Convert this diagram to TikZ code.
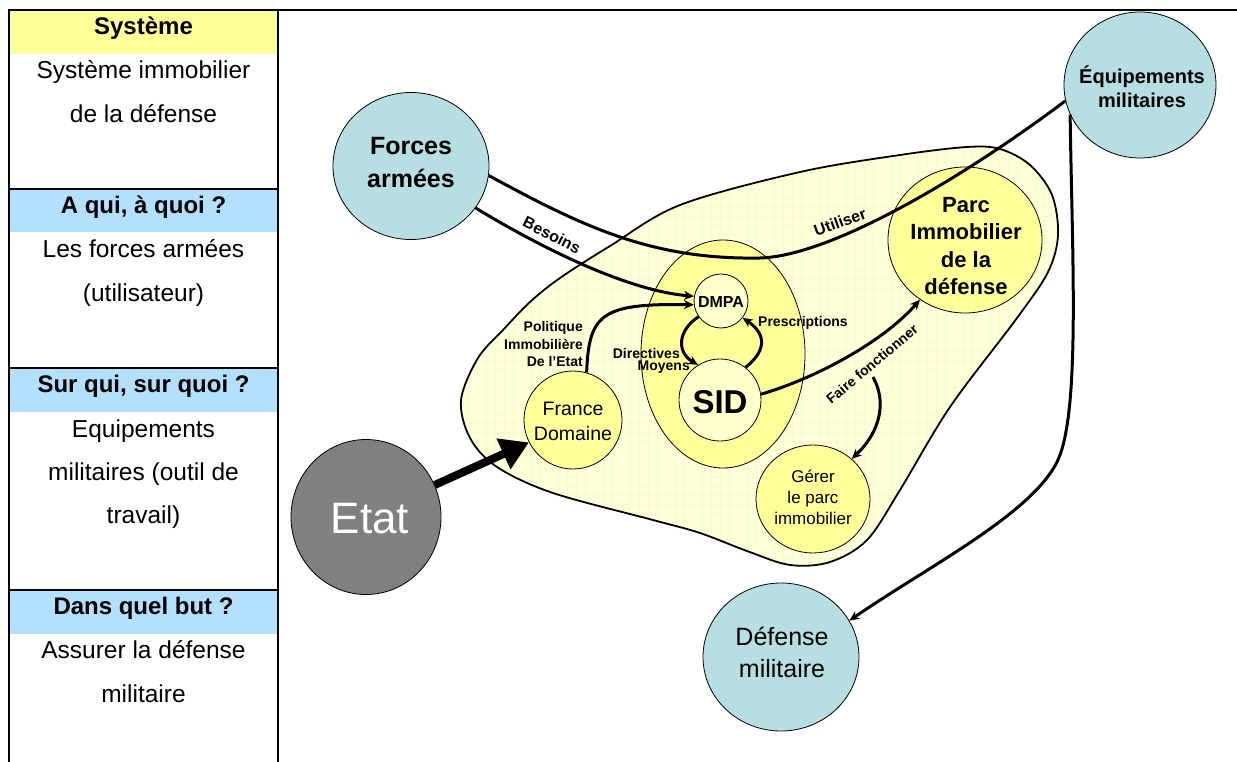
\documentclass[tikz,border=0pt]{standalone}
\usepackage{fontspec}
\setmainfont{Liberation Sans}
\usetikzlibrary{shapes.geometric,arrows.meta}
\definecolor{tl}{RGB}{183,222,226}
\definecolor{yel}{RGB}{255,255,153}
\definecolor{pale}{RGB}{255,255,204}
\definecolor{blobc}{RGB}{255,255,218}
\definecolor{gridc}{RGB}{251,250,205}
\definecolor{hy}{RGB}{255,255,153}
\definecolor{hb}{RGB}{179,224,255}
\definecolor{etatc}{RGB}{128,128,128}
\newcommand\myfs[2]{\fontsize{#1}{#2}\selectfont}
\begin{document}
\begin{tikzpicture}[x=1pt,y=-1pt,
  circ/.style={ellipse,draw,line width=0.8pt,inner sep=0pt},
  ctext/.style={align=center,inner sep=0pt},
  tb/.style={anchor=base,font=\myfs{24.5}{30}},
  th/.style={anchor=base,font=\bfseries\myfs{24}{30}},
  arr/.style={line width=3pt,-{Stealth[length=10pt,width=9pt]}},
  lbl/.style={font=\bfseries\myfs{14}{17.5},inner sep=0pt},
  tline/.style={line width=2.5pt}]
\useasboundingbox (0,0) rectangle (1237,762);
% table
\fill[hy] (9,10) rectangle (278,54);
\fill[hb] (9,189) rectangle (278,232);
\fill[hb] (9,368) rectangle (278,412);
\fill[hb] (9,590) rectangle (278,634);
\draw[tline] (1237,10) -- (9,10) -- (9,762);
\draw[tline] (278,10) -- (278,762);
\draw[tline] (9,189) -- (278,189);
\draw[tline] (9,368) -- (278,368);
\draw[tline] (9,590) -- (278,590);
\node[th] (h1) at (143.5,35) {Système};
\node[tb] (t1a) at (143.5,79) {Système immobilier};
\node[tb] (t1b) at (143.5,123) {de la défense};
\node[th] (h2) at (143.5,214) {A qui, à quoi ?};
\node[tb] (t2a) at (143.5,258) {Les forces armées};
\node[tb] (t2b) at (143.5,301) {(utilisateur)};
\node[th] (h3) at (143.5,392) {Sur qui, sur quoi ?};
\node[tb] (t3a) at (143.5,437) {Equipements};
\node[tb] (t3b) at (143.5,480) {militaires (outil de};
\node[tb] (t3c) at (143.5,523) {travail)};
\node[th] (h4) at (143.5,614) {Dans quel but ?};
\node[tb] (t4a) at (143.5,658) {Assurer la défense};
\node[tb] (t4b) at (143.5,702) {militaire};
% blob
\def\blobpath{plot[smooth cycle,tension=0.55] coordinates {(461,400) (478,358) (503,330) (530,302) (560,278) (610,246) (680,205) (800,172) (900,155) (967,147) (1000,149) (1030,165) (1052,195) (1058,235) (1048,272) (1017,318) (950,407) (900,490) (867,540) (830,562) (790,565) (747,551) (700,533) (653,520) (553,493) (497,467) (470,438)}}
\begin{scope}
\clip \blobpath;
\fill[blobc] (440,130) rectangle (1070,580);
\draw[gridc,line width=0.5pt,step=9pt] (440,130) grid (1070,580);
\end{scope}
\draw[line width=1.8pt] \blobpath;
% inner ellipse
\node[circ,fill=yel,minimum width=164,minimum height=228] (inner) at (723,354) {};
% circles
\node[circ,fill=tl,minimum width=156,minimum height=147] (forces) at (411,166) {};
\node[ctext,font=\bfseries\myfs{25}{33}] (forcesT) at (411,163) {Forces\\armées};
\node[circ,fill=tl,minimum width=152,minimum height=146] (equip) at (1140,85) {};
\node[ctext,font=\bfseries\myfs{20}{24}] (equipT) at (1142,87) {Équipements\\militaires};
\node[circ,fill=yel,minimum width=154,minimum height=146] (parc) at (965,240) {};
\node[ctext,font=\bfseries\myfs{22}{27.5}] (parcT) at (966,246) {Parc\\Immobilier\\de la\\défense};
\node[circ,fill=pale,minimum size=54] (dmpa) at (721,301) {};
\node[ctext,font=\bfseries\myfs{16}{18}] (dmpaT) at (721,302) {DMPA};
\node[circ,fill=pale,minimum size=82] (sid) at (720,400) {};
\node[ctext,font=\bfseries\myfs{33}{36}] (sidT) at (720,402) {SID};
\node[circ,fill=yel,minimum size=98] (france) at (573,420) {};
\node[ctext,font=\myfs{19.5}{25}] (franceT) at (573,421) {France\\Domaine};
\node[circ,fill=yel,minimum width=114,minimum height=108] (gerer) at (813,499) {};
\node[ctext,font=\myfs{17}{21}] (gererT) at (813,497) {Gérer\\le parc\\immobilier};
\node[circ,fill=etatc,minimum width=150,minimum height=155] (etat) at (366,517) {};
\node[ctext,text=white,font=\myfs{44}{48}] (etatT) at (370,519) {Etat};
\node[circ,fill=tl,minimum width=156,minimum height=148] (defense) at (781,657) {};
\node[ctext,font=\myfs{25}{32}] (defenseT) at (782,652) {Défense\\militaire};
% connectors
\draw[line width=3pt] (forces.-7) .. controls (580,225) and (650,260) .. (760,258)
   .. controls (830,256) and (960,180) .. (equip.192);
\draw[arr] (forces.-33) .. controls (525,238) and (620,290) .. (dmpa.170);
\draw[arr] (france.74) .. controls (589,315) and (600,303) .. (dmpa.188);
\draw[arr] (dmpa.215) .. controls (678,330) and (676,352) .. (sid.122);
\draw[arr] (sid.52) .. controls (765,352) and (768,335) .. (dmpa.-38);
\draw[arr] (sid.8) .. controls (810,380) and (880,345) .. (parc.-127);
\coordinate (ff) at (873,377);
\draw[arr] (ff) .. controls (886,400) and (882,430) .. (gerer.46);
\draw[arr] (equip.203) .. controls (1072,250) and (1080,400) .. (1060,455)
   .. controls (1040,510) and (930,565) .. (defense.28);
\draw[line width=8pt,-{Triangle[length=28pt,width=32pt]}] (etat.25) -- (france.207);
% labels
\node[lbl,font=\bfseries\myfs{16}{18},rotate=-27] (lbes) at (552,235) {Besoins};
\node[lbl,font=\bfseries\myfs{16}{18},rotate=20] (luti) at (840,222) {Utiliser};
\node[lbl,anchor=east,align=right] (lpol) at (583,344) {Politique\\Immobilière\\De l’Etat};
\node[lbl,anchor=east] (ldir) at (680,353) {Directives};
\node[lbl,anchor=east] (lmoy) at (690,367) {Moyens};
\node[lbl,anchor=west] (lpre) at (758,323) {Prescriptions};
\node[lbl,rotate=40] (lfai) at (872,364) {Faire fonctionner};
\end{tikzpicture}
\end{document}
